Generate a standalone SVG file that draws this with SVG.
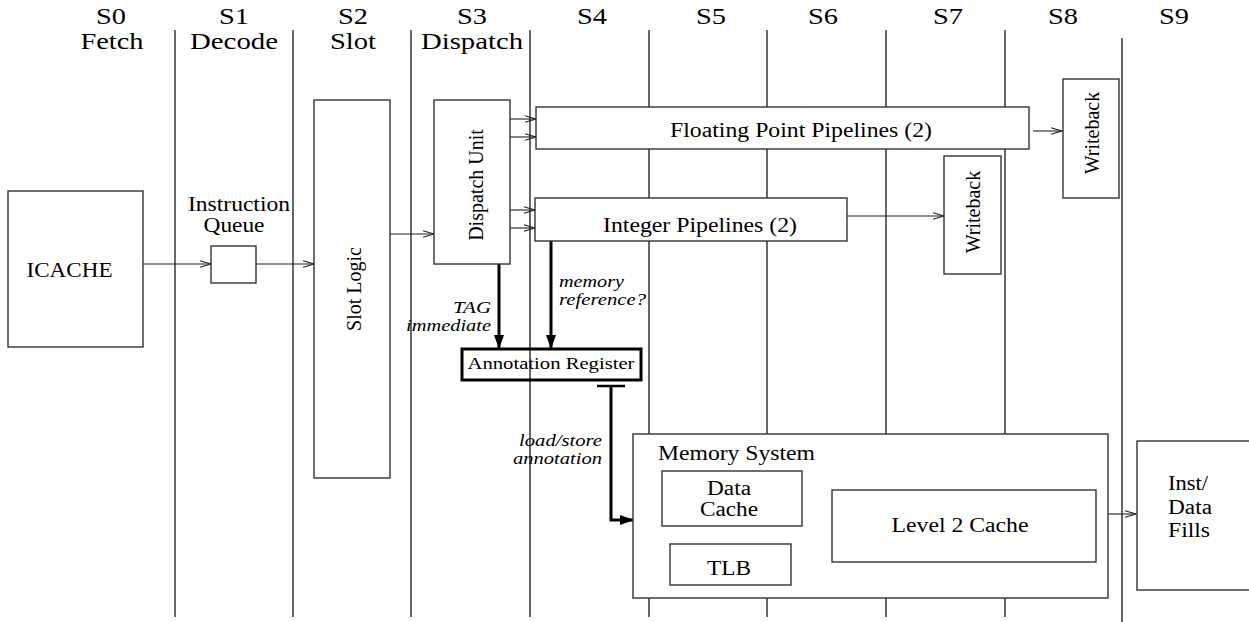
<svg xmlns="http://www.w3.org/2000/svg" width="1249" height="622" viewBox="0 0 1249 622" font-family="'Liberation Serif', 'Times New Roman', Times, serif">
<style>
  text { font-family: 'Liberation Serif', 'Times New Roman', Times, serif; fill: #000; }
  .hdr { font-size: 24px; text-anchor: middle; }
  .lbl { font-size: 20px; }
  .mid { text-anchor: middle; }
  .end { text-anchor: end; }
  .it { font-style: italic; font-size: 17px; }
  .rot { font-size: 20px; text-anchor: middle; dominant-baseline: central; }
  .stage { stroke: #000; stroke-width: 1.2; }
  .box { fill: #fff; stroke: #333; stroke-width: 1.4; }
  .thin { stroke: #222; stroke-width: 1.1; fill: none; marker-end: url(#open); }
  .thick { stroke: #000; stroke-width: 3; fill: none; }
</style>
<defs>
  <marker id="open" markerUnits="userSpaceOnUse" markerWidth="14" markerHeight="10" refX="12" refY="4" orient="auto" overflow="visible">
    <path d="M1,0.8 L12,4 L1,7.2" fill="none" stroke="#222" stroke-width="1.1"/>
  </marker>
  <marker id="solid" markerUnits="userSpaceOnUse" markerWidth="14" markerHeight="12" refX="13" refY="5" orient="auto" overflow="visible">
    <path d="M0,0 L14,5 L0,10 Z" fill="#000"/>
  </marker>
</defs>
<rect width="1249" height="622" fill="#fff"/>

<g id="header">
  <text class="hdr" x="111" y="24" textLength="30" lengthAdjust="spacingAndGlyphs">S0</text>
  <text class="hdr" x="234" y="24" textLength="30" lengthAdjust="spacingAndGlyphs">S1</text>
  <text class="hdr" x="353" y="24" textLength="30" lengthAdjust="spacingAndGlyphs">S2</text>
  <text class="hdr" x="472" y="24" textLength="30" lengthAdjust="spacingAndGlyphs">S3</text>
  <text class="hdr" x="592" y="24" textLength="30" lengthAdjust="spacingAndGlyphs">S4</text>
  <text class="hdr" x="711" y="24" textLength="30" lengthAdjust="spacingAndGlyphs">S5</text>
  <text class="hdr" x="823" y="24" textLength="30" lengthAdjust="spacingAndGlyphs">S6</text>
  <text class="hdr" x="948" y="24" textLength="30" lengthAdjust="spacingAndGlyphs">S7</text>
  <text class="hdr" x="1063" y="24" textLength="30" lengthAdjust="spacingAndGlyphs">S8</text>
  <text class="hdr" x="1174" y="24" textLength="30" lengthAdjust="spacingAndGlyphs">S9</text>
  <text class="hdr" x="112" y="49" textLength="63" lengthAdjust="spacingAndGlyphs">Fetch</text>
  <text class="hdr" x="234" y="49" textLength="88" lengthAdjust="spacingAndGlyphs">Decode</text>
  <text class="hdr" x="353" y="49" textLength="46" lengthAdjust="spacingAndGlyphs">Slot</text>
  <text class="hdr" x="472" y="49" textLength="102" lengthAdjust="spacingAndGlyphs">Dispatch</text>
</g>

<g id="stages">
  <line class="stage" x1="175" y1="30" x2="175" y2="617"/>
  <line class="stage" x1="293" y1="30" x2="293" y2="617"/>
  <line class="stage" x1="411" y1="30" x2="411" y2="617"/>
  <line class="stage" x1="530" y1="30" x2="530" y2="617"/>
  <line class="stage" x1="649" y1="30" x2="649" y2="617"/>
  <line class="stage" x1="767" y1="30" x2="767" y2="617"/>
  <line class="stage" x1="886" y1="30" x2="886" y2="617"/>
  <line class="stage" x1="1005" y1="30" x2="1005" y2="617"/>
  <line class="stage" x1="1122" y1="38" x2="1122" y2="622"/>
</g>

<g id="connectors">
  <line class="thin" x1="143" y1="264" x2="211" y2="264"/>
  <line class="thin" x1="256" y1="264" x2="314" y2="264"/>
  <line class="thin" x1="390" y1="234" x2="434" y2="234"/>
  <line class="thin" x1="510" y1="119" x2="536" y2="119"/>
  <line class="thin" x1="510" y1="137" x2="536" y2="137"/>
  <line class="thin" x1="510" y1="210" x2="535" y2="210"/>
  <line class="thin" x1="510" y1="228" x2="535" y2="228"/>
  <line class="thin" x1="1033" y1="131" x2="1062" y2="131"/>
  <line class="thin" x1="847" y1="216" x2="944" y2="216"/>
  <line class="thin" x1="1108" y1="514" x2="1136" y2="514"/>
  <line class="thick" x1="499" y1="264" x2="499" y2="348" marker-end="url(#solid)"/>
  <line class="thick" x1="551" y1="241" x2="551" y2="348" marker-end="url(#solid)"/>
  <line x1="597" y1="386" x2="625" y2="386" stroke="#000" stroke-width="2.5"/>
  <polyline class="thick" points="611,386 611,520 633,520" marker-end="url(#solid)"/>
  <text class="it end" x="491" y="313" textLength="38" lengthAdjust="spacingAndGlyphs">TAG</text>
  <text class="it end" x="491" y="331" textLength="85" lengthAdjust="spacingAndGlyphs">immediate</text>
  <text class="it" x="559" y="287" textLength="65" lengthAdjust="spacingAndGlyphs">memory</text>
  <text class="it" x="559" y="305" textLength="87" lengthAdjust="spacingAndGlyphs">reference?</text>
  <text class="it end" x="602" y="446" textLength="83" lengthAdjust="spacingAndGlyphs">load/store</text>
  <text class="it end" x="602" y="464" textLength="89" lengthAdjust="spacingAndGlyphs">annotation</text>
</g>

<g id="icache">
  <rect class="box" x="8" y="191" width="135" height="156"/>
  <text class="lbl mid" x="69.5" y="277" textLength="86" lengthAdjust="spacingAndGlyphs">ICACHE</text>
</g>
<g id="instruction-queue">
  <text class="lbl mid" x="239" y="211" textLength="102" lengthAdjust="spacingAndGlyphs">Instruction</text>
  <text class="lbl mid" x="234" y="232" textLength="61" lengthAdjust="spacingAndGlyphs">Queue</text>
  <rect class="box" x="211" y="246" width="45" height="37"/>
</g>
<g id="slot-logic">
  <rect class="box" x="314" y="100" width="76" height="378"/>
  <text class="rot" transform="translate(354,289) rotate(-90)" x="0" y="0">Slot Logic</text>
</g>
<g id="dispatch-unit">
  <rect class="box" x="434" y="100" width="76" height="164"/>
  <text class="rot" transform="translate(476,185) rotate(-90)" x="0" y="0">Dispatch Unit</text>
</g>
<g id="fp-pipelines">
  <rect class="box" x="536" y="107" width="493" height="42"/>
  <text class="lbl mid" x="801" y="137" textLength="262" lengthAdjust="spacingAndGlyphs">Floating Point Pipelines (2)</text>
</g>
<g id="int-pipelines">
  <rect class="box" x="535" y="198" width="312" height="43"/>
  <text class="lbl mid" x="700" y="232" textLength="194" lengthAdjust="spacingAndGlyphs">Integer Pipelines (2)</text>
</g>
<g id="writeback-int">
  <rect class="box" x="944" y="156" width="57" height="118"/>
  <text class="rot" transform="translate(973,212) rotate(-90)" x="0" y="0">Writeback</text>
</g>
<g id="writeback-fp">
  <rect class="box" x="1063" y="79" width="56" height="119"/>
  <text class="rot" transform="translate(1092,133) rotate(-90)" x="0" y="0">Writeback</text>
</g>
<g id="annotation-register">
  <rect x="462" y="349" width="179" height="31" fill="none" stroke="#000" stroke-width="3"/>
  <text class="mid" style="font-size:17.5px" x="551" y="369" textLength="167" lengthAdjust="spacingAndGlyphs">Annotation Register</text>
</g>
<g id="memory-system">
  <rect class="box" x="633" y="434" width="475" height="164"/>
  <text class="lbl" x="658" y="460" textLength="157" lengthAdjust="spacingAndGlyphs">Memory System</text>
</g>
<g id="data-cache">
  <rect class="box" x="662" y="471" width="140" height="55"/>
  <text class="lbl mid" x="729" y="495" textLength="44" lengthAdjust="spacingAndGlyphs">Data</text>
  <text class="lbl mid" x="729" y="516" textLength="58" lengthAdjust="spacingAndGlyphs">Cache</text>
</g>
<g id="tlb">
  <rect class="box" x="670" y="544" width="121" height="41"/>
  <text class="lbl mid" x="729" y="575" textLength="44" lengthAdjust="spacingAndGlyphs">TLB</text>
</g>
<g id="level2-cache">
  <rect class="box" x="832" y="490" width="264" height="72"/>
  <text class="lbl mid" x="960" y="532" textLength="137" lengthAdjust="spacingAndGlyphs">Level 2 Cache</text>
</g>
<g id="inst-data-fills">
  <rect class="box" x="1137" y="441" width="120" height="149"/>
  <text class="lbl" x="1168" y="490" textLength="40" lengthAdjust="spacingAndGlyphs">Inst/</text>
  <text class="lbl" x="1168" y="514" textLength="44" lengthAdjust="spacingAndGlyphs">Data</text>
  <text class="lbl" x="1168" y="537" textLength="42" lengthAdjust="spacingAndGlyphs">Fills</text>
</g>
</svg>
